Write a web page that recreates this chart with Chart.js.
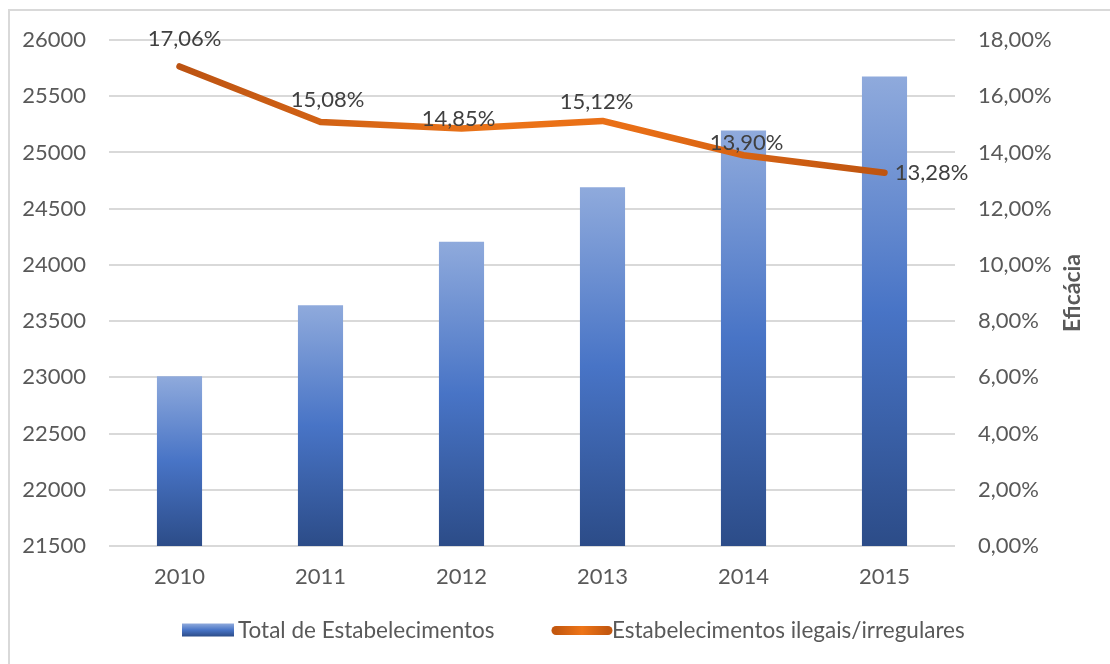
<!DOCTYPE html>
<html>
<head>
<meta charset="utf-8">
<script src="https://cdn.jsdelivr.net/npm/chart.js@4.4.1/dist/chart.umd.min.js"></script>
<style>
  html, body { margin: 0; padding: 0; background: #ffffff; }
  #wrap { position: relative; width: 1110px; height: 664px; }
  #frame { position: absolute; left: 8px; top: 9px; width: 1110px; height: 700px;
           border: 2px solid #D9D9D9; box-sizing: border-box; pointer-events: none; }
  canvas { position: absolute; left: 0; top: 0; }
</style>
</head>
<body>
<div id="wrap">
  <canvas id="chart" width="1110" height="664"></canvas>
  <div id="frame"></div>
</div>
<script>
// Years on the category axis
const years = ['2010', '2011', '2012', '2013', '2014', '2015'];
// Total number of establishments (left axis)
const totalEstabelecimentos = [23010, 23640, 24205, 24690, 25195, 25675];
// Share of illegal / irregular establishments, in % (right axis)
const ilegaisIrregulares = [17.06, 15.08, 14.85, 15.12, 13.90, 13.28];
// Axis ranges
const leftAxis = { min: 21500, max: 26000, step: 500 };
const rightAxis = { min: 0, max: 18, step: 2 };
const seriesNames = ['Total de Estabelecimentos', 'Estabelecimentos ilegais/irregulares'];
const rightAxisTitle = 'Eficácia';

const FONT = 'Lato, "Open Sans", sans-serif';
const TEXT = '#595959';

const pct = v => v.toFixed(2).replace('.', ',') + '%';

const BLUE_STOPS = [[0, '#8FAADC'], [0.5, '#4874C6'], [1, '#2C4C88']];

// Vertical blue gradient, fitted to each bar
function barGradient(ctx) {
  const chart = ctx.chart;
  const area = chart.chartArea;
  if (!area || ctx.type !== 'data') return '#4472C4';
  const y = chart.scales.y;
  const top = y.getPixelForValue(ctx.raw);
  const bottom = y.getPixelForValue(leftAxis.min);
  const g = chart.ctx.createLinearGradient(0, top, 0, bottom);
  BLUE_STOPS.forEach(([o, c]) => g.addColorStop(o, c));
  return g;
}

// Horizontal orange gradient along the line
function lineGradient(chart) {
  const area = chart.chartArea;
  if (!area) return '#E46C0A';
  const x = chart.scales.x;
  const x0 = x.getPixelForValue(0), x1 = x.getPixelForValue(years.length - 1);
  const g = chart.ctx.createLinearGradient(x0, 0, x1, 0);
  g.addColorStop(0, '#BC5312');
  g.addColorStop(0.45, '#EC7418');
  g.addColorStop(0.65, '#E86E16');
  g.addColorStop(1, '#BE5410');
  return g;
}

// Value labels next to the line points (offsets in px)
const labelOffsets = [[5, -28], [7, -22], [-3, -10], [-6, -19], [3, -12], [47, 0]];
const lineLabels = {
  id: 'lineLabels',
  afterDatasetsDraw(chart) {
    const meta = chart.getDatasetMeta(1);
    const c = chart.ctx;
    c.save();
    c.font = '22px ' + FONT;
    c.fillStyle = '#404040';
    c.textAlign = 'center';
    c.textBaseline = 'middle';
    meta.data.forEach((pt, i) => {
      const [dx, dy] = labelOffsets[i];
      c.fillText(pct(ilegaisIrregulares[i]), pt.x + dx, pt.y + dy);
    });
    c.restore();
  }
};

// Right-axis title (reading bottom to top) and the legend below the axis
const extras = {
  id: 'extras',
  afterDraw(chart) {
    const a = chart.chartArea;
    const c = chart.ctx;
    c.save();
    c.translate(1073, (a.top + a.bottom) / 2);
    c.rotate(-Math.PI / 2);
    c.font = 'bold 23px ' + FONT;
    c.fillStyle = TEXT;
    c.textAlign = 'center';
    c.textBaseline = 'middle';
    c.fillText(rightAxisTitle, 0, 0);
    c.restore();

    // legend
    const ly = 630;
    c.save();
    c.font = '22.5px ' + FONT;
    c.fillStyle = TEXT;
    c.textBaseline = 'middle';
    c.textAlign = 'left';
    const bx = 182, bw = 52, bh = 13;
    const gb = c.createLinearGradient(0, ly - bh / 2, 0, ly + bh / 2);
    BLUE_STOPS.forEach(([o, col]) => gb.addColorStop(o, col));
    c.fillStyle = gb;
    c.fillRect(bx, ly - bh / 2, bw, bh);
    c.fillStyle = TEXT;
    c.fillText(seriesNames[0], bx + bw + 4, ly + 1);

    const lx0 = 556, lx1 = 608;
    const go = c.createLinearGradient(lx0, 0, lx1, 0);
    go.addColorStop(0, '#C4580F');
    go.addColorStop(0.5, '#EE7518');
    go.addColorStop(1, '#C4580F');
    c.strokeStyle = go;
    c.lineWidth = 9;
    c.lineCap = 'round';
    c.beginPath();
    c.moveTo(lx0, ly + 0.5);
    c.lineTo(lx1, ly + 0.5);
    c.stroke();
    c.fillStyle = TEXT;
    c.fillText(seriesNames[1], 612, ly + 1);
    c.restore();
  }
};

const TICK_FONT = { family: FONT, size: 22 };

const chart = new Chart(document.getElementById('chart'), {
  data: {
    labels: years,
    datasets: [
      {
        type: 'bar',
        label: seriesNames[0],
        data: totalEstabelecimentos,
        yAxisID: 'y',
        backgroundColor: barGradient,
        barPercentage: 0.32,
        categoryPercentage: 1,
        order: 2
      },
      {
        type: 'line',
        label: seriesNames[1],
        data: ilegaisIrregulares,
        yAxisID: 'y1',
        borderColor: ctx => lineGradient(ctx.chart),
        borderWidth: 6.5,
        borderCapStyle: 'round',
        borderJoinStyle: 'round',
        pointRadius: 0,
        tension: 0,
        order: 1
      }
    ]
  },
  options: {
    responsive: false,
    animation: false,
    layout: { padding: { top: 40, bottom: 54, left: 0, right: 0 } },
    plugins: {
      tooltip: { enabled: false },
      legend: { display: false }
    },
    scales: {
      x: {
        grid: { display: false, drawTicks: false },
        border: { display: false },
        ticks: { font: TICK_FONT, color: TEXT, padding: 18 },
        afterFit(s) { s.height = 64; }
      },
      y: {
        position: 'left',
        min: leftAxis.min,
        max: leftAxis.max,
        ticks: { stepSize: leftAxis.step, font: TICK_FONT, color: TEXT, padding: 23,
                 callback: v => String(v) },
        grid: { color: '#D9D9D9', lineWidth: 2, drawTicks: false },
        border: { display: false },
        afterFit(s) { s.width = 109; }
      },
      y1: {
        position: 'right',
        min: rightAxis.min,
        max: rightAxis.max,
        ticks: { stepSize: rightAxis.step, font: TICK_FONT, color: TEXT, padding: 23,
                 callback: v => pct(v) },
        grid: { display: false, drawTicks: false },
        border: { display: false },
        afterFit(s) { s.width = 155; }
      }
    }
  },
  plugins: [lineLabels, extras]
});
</script>
</body>
</html>
